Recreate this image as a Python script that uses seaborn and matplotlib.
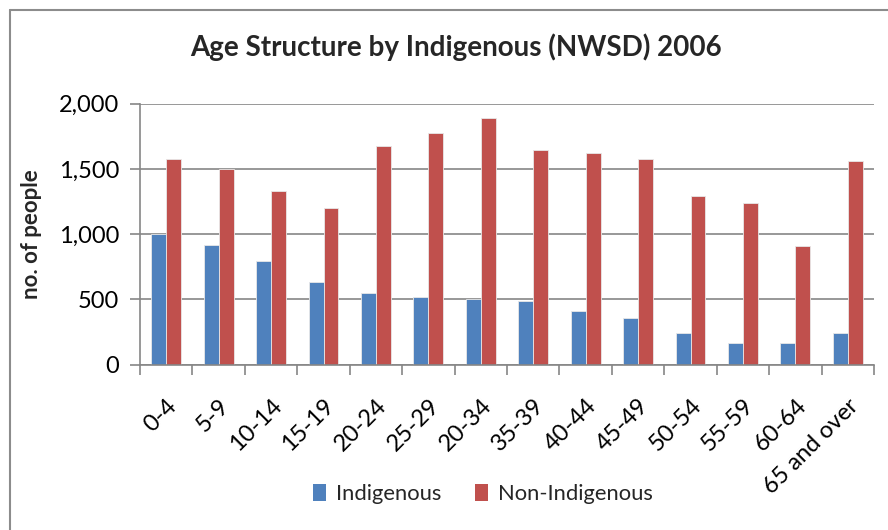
import matplotlib
matplotlib.use("Agg")
import matplotlib.pyplot as plt
from matplotlib.lines import Line2D
from matplotlib.patches import Patch
from matplotlib.ticker import FuncFormatter, FixedLocator
import seaborn as sns
import pandas as pd

age_groups = ["0-4", "5-9", "10-14", "15-19", "20-24", "25-29", "20-34",
              "35-39", "40-44", "45-49", "50-54", "55-59", "60-64", "65 and over"]
indigenous = [1000, 920, 790, 632, 545, 514, 499, 486, 414, 355, 238, 166, 166, 238]
non_indigenous = [1573, 1501, 1327, 1197, 1675, 1777, 1892, 1647, 1619, 1573, 1296, 1238, 908, 1560]
series_names = ["Indigenous", "Non-Indigenous"]
colors = ["#4F81BD", "#C0504D"]

df = pd.DataFrame({
    "age": age_groups * 2,
    "people": indigenous + non_indigenous,
    "group": [series_names[0]] * len(age_groups) + [series_names[1]] * len(age_groups),
})

sns.set_theme(style="white")
plt.rcParams["font.family"] = ["Lato", "DejaVu Sans"]

fig = plt.figure(figsize=(8.88, 5.30), dpi=100)
ax = fig.add_axes([140 / 888, 1 - 364.5 / 530, (874 - 140) / 888, (364.5 - 103.7) / 530])

sns.barplot(data=df, x="age", y="people", hue="group", order=age_groups,
            hue_order=series_names, palette=colors, width=0.57, ax=ax,
            legend=False, saturation=1, linewidth=0.6, edgecolor="#e8e8e8")

ax.set_xlim(-0.5, len(age_groups) - 0.5)
ax.set_ylim(0, 2000)
ax.set_yticks([0, 500, 1000, 1500, 2000])
ax.yaxis.set_major_formatter(FuncFormatter(lambda v, p: f"{int(v):,}"))
ax.grid(axis="y", color="#868686", linewidth=1.2)
ax.set_axisbelow(True)

for s in ["top", "right"]:
    ax.spines[s].set_visible(False)
for s in ["left", "bottom"]:
    ax.spines[s].set_color("#868686")
    ax.spines[s].set_linewidth(1.2)

# category labels at the centres, tick marks on the category boundaries
ax.xaxis.set_minor_locator(FixedLocator([i - 0.5 for i in range(len(age_groups) + 1)]))
ax.tick_params(axis="x", which="major", length=0, pad=22, labelsize=17, colors="black")
ax.tick_params(axis="x", which="minor", bottom=True, length=7, width=1.2, color="#868686")
ax.tick_params(axis="y", which="major", left=True, length=7, width=1.2, color="#868686",
               pad=8, labelsize=17, labelcolor="black")
plt.setp(ax.get_xticklabels(), rotation=45, ha="right", rotation_mode="anchor")

ax.set_xlabel("")
ax.set_ylabel("no. of people", fontsize=16, fontweight="bold")
ax.yaxis.set_label_coords(-0.133, 0.5)

fig.text(456 / 888, 1 - 47 / 530, "Age Structure by Indigenous (NWSD) 2006",
         ha="center", va="center", fontsize=20, fontweight="bold")

handles = [Patch(facecolor=c, edgecolor="none") for c in colors]
fig.legend(handles, series_names, loc="center", bbox_to_anchor=(483 / 888, 1 - 494 / 530),
           ncol=2, frameon=False, fontsize=15.8, handlelength=0.6, handleheight=0.8,
           handletextpad=0.45, columnspacing=1.55)

# chart frame
fig.add_artist(Line2D([10 / 888, 10 / 888], [0, 1 - 10 / 530], transform=fig.transFigure,
                      color="#8c8c8c", linewidth=1.5))
fig.add_artist(Line2D([10 / 888, 1], [1 - 10 / 530, 1 - 10 / 530], transform=fig.transFigure,
                      color="#8c8c8c", linewidth=1.5))

fig.savefig("out.png", dpi=100, facecolor="white")
